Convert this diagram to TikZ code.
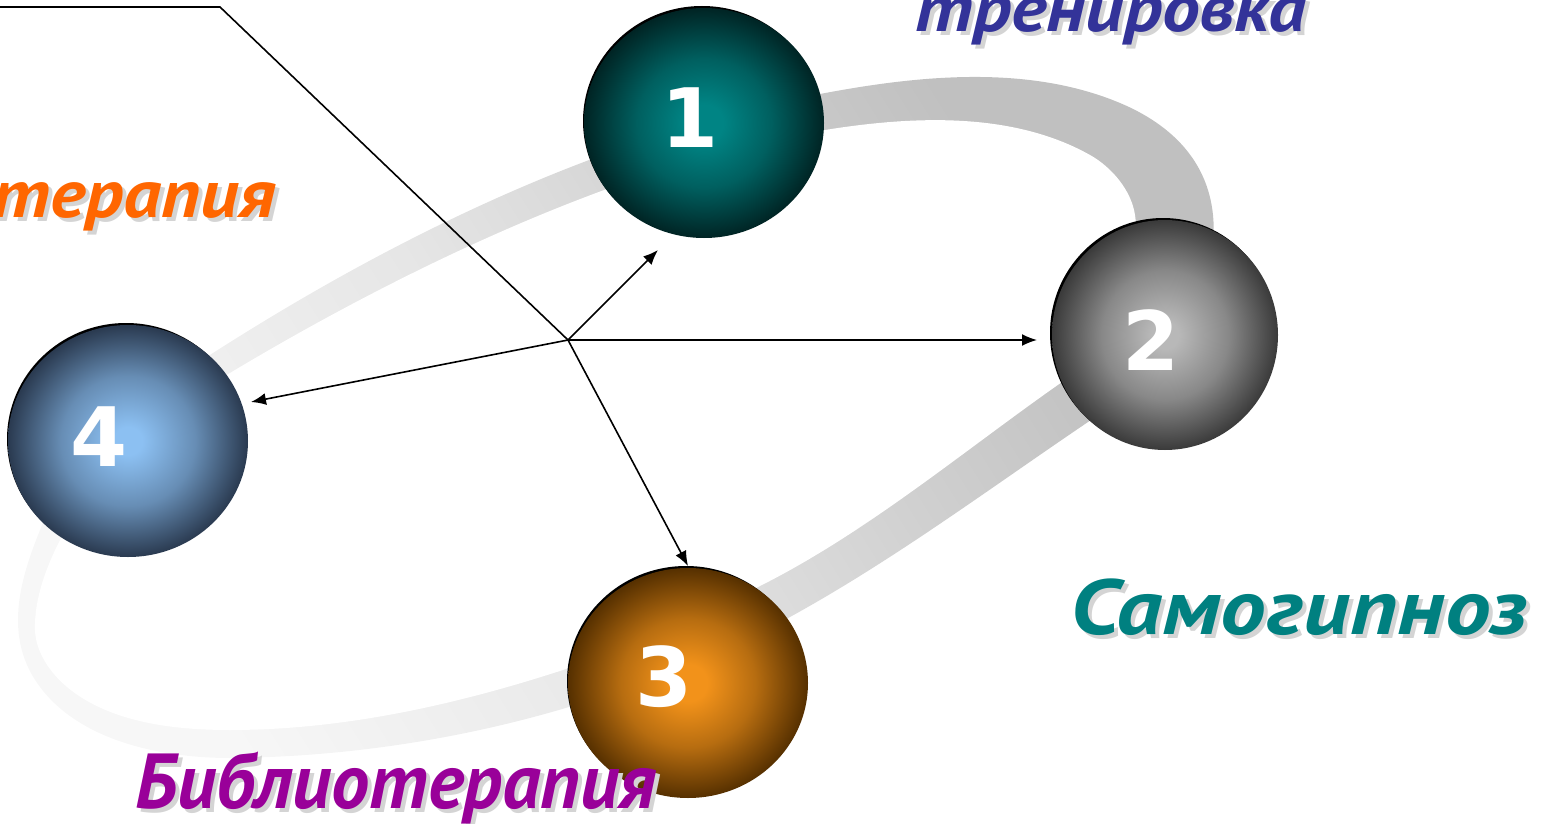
\documentclass[tikz,border=0pt]{standalone}
\usepackage{fontspec}
\usetikzlibrary{arrows.meta,shapes.geometric}
\newfontfamily\labelfont{PT Sans}
\newfontfamily\numfont{DejaVu Sans}

% label colours
\definecolor{lblblue}{HTML}{333399}
\definecolor{lblorange}{HTML}{FF6600}
\definecolor{lblteal}{HTML}{008080}
\definecolor{lblpurple}{HTML}{990099}
\definecolor{lblshadow}{HTML}{D4D4D4}

% ring colours
\definecolor{ringA}{HTML}{F7F7F7}
\definecolor{ringB}{HTML}{E6E6E6}
\definecolor{ringC}{HTML}{D0D0D0}
\definecolor{ringD}{HTML}{C0C0C0}
\pgfdeclarehorizontalshading{ringshade}{100bp}{color(0bp)=(ringA); color(25bp)=(ringA); color(45bp)=(ringB); color(60bp)=(ringC); color(72bp)=(ringD); color(100bp)=(ringD)}

% sphere colours: centre, halfway, rim
\definecolor{sA}{HTML}{008484}\definecolor{sAo}{HTML}{002424}
\definecolor{sB}{HTML}{B8B8B8}\definecolor{sBo}{HTML}{3A3A3A}
\definecolor{sC}{HTML}{F2921A}\definecolor{sCo}{HTML}{563000}
\definecolor{sD}{HTML}{8CC0F2}\definecolor{sDo}{HTML}{2A3A50}
\colorlet{sAm}{sA!62!sAo}
\colorlet{sBm}{sB!62!sBo}
\colorlet{sCm}{sC!62!sCo}
\colorlet{sDm}{sD!62!sDo}
\pgfdeclareradialshading{sphA}{\pgfpoint{0bp}{0bp}}{color(0bp)=(sA); color(4bp)=(sA); color(14bp)=(sAm); color(25bp)=(sAo); color(50bp)=(sAo)}
\pgfdeclareradialshading{sphB}{\pgfpoint{0bp}{0bp}}{color(0bp)=(sB); color(3bp)=(sB); color(14bp)=(sBm); color(25bp)=(sBo); color(50bp)=(sBo)}
\pgfdeclareradialshading{sphC}{\pgfpoint{0bp}{0bp}}{color(0bp)=(sC); color(4bp)=(sC); color(14bp)=(sCm); color(25bp)=(sCo); color(50bp)=(sCo)}
\pgfdeclareradialshading{sphD}{\pgfpoint{0bp}{0bp}}{color(0bp)=(sD); color(3bp)=(sD); color(14bp)=(sDm); color(25bp)=(sDo); color(50bp)=(sDo)}

\tikzset{
  sphere/.style={ellipse, inner sep=0pt, minimum width=240pt, minimum height=230pt, draw=none},
  sphshadow/.style={fill=black},
  num/.style={text=white, inner sep=0pt, font=\numfont\bfseries\fontsize{82}{82}\selectfont},
  lbl/.style={inner sep=0pt, font=\labelfont\bfseries\itshape\fontsize{78}{78}\selectfont},
  lblsmall/.style={inner sep=0pt, font=\labelfont\bfseries\itshape\fontsize{68}{68}\selectfont},
  conn/.style={line width=1.6pt, -{Latex[length=15pt,width=12pt]}},
  leader/.style={line width=1.6pt},
}

\begin{document}
\begin{tikzpicture}[x=1pt,y=-1pt]
\useasboundingbox (0,0) rectangle (1543,824);

% the tilted ring behind the spheres: outer rim shaded, inner hole cut out
\path[shading=ringshade, shading angle=32]
  (213,353) .. controls (398.5,234.4) and (604,135.1) .. (820,94)
  .. controls (918.2,75.3) and (1027.8,64.3) .. (1120,103)
  .. controls (1170.7,124.3) and (1207.5,160.3) .. (1213,215)
  .. controls (1221,294.6) and (1157.4,375.2) .. (1091,420)
  .. controls (991.4,487.2) and (895.1,559.2) .. (790,617)
  .. controls (720,655.6) and (645.6,684) .. (569,707)
  .. controls (459.8,739.7) and (344,757) .. (230,758)
  .. controls (162,758) and (80.8,741.4) .. (40,687)
  .. controls (25,667) and (18,645) .. (18,620)
  .. controls (18,589) and (28.5,558.8) .. (40,530)
  .. controls (70.3,453.7) and (143.9,397.2) .. (213,353) -- cycle;
\fill[white]
  (230,373) .. controls (384.3,280.5) and (613.8,163.8) .. (825,130)
  .. controls (912.8,115.9) and (1012.4,111.4) .. (1090,155)
  .. controls (1111.8,167.3) and (1131.3,190.3) .. (1135,215)
  .. controls (1144,274.4) and (1111.1,347.6) .. (1062,382)
  .. controls (962.1,451.9) and (867.1,532.5) .. (758,587)
  .. controls (696.3,617.8) and (634.6,646.4) .. (569,668)
  .. controls (459.8,704) and (345,730) .. (230,730)
  .. controls (174,730) and (110.1,722.8) .. (67,687)
  .. controls (50.1,672.9) and (35.7,652) .. (35,630)
  .. controls (34.1,599) and (46,567.6) .. (60,540)
  .. controls (95.6,469.7) and (162.3,413.6) .. (230,373) -- cycle;

% sphere centres, hub and arrow ends
\coordinate (c1) at (704,123);
\coordinate (c2) at (1165,335);
\coordinate (c3) at (688,683);
\coordinate (c4) at (128,441);
\coordinate (hub) at (568,340);
\coordinate (t1) at (658,250);
\coordinate (t2) at (1037,340);
\coordinate (t3) at (688,566);
\coordinate (t4) at (251,402);
\coordinate (lstart) at (-5,7);
\coordinate (lbend) at (220,7);

% dark rims of the spheres
\fill[sphshadow] ([shift={(-2,-2)}]c1) circle[x radius=119pt, y radius=115pt];
\fill[sphshadow] ([shift={(-2,-2)}]c2) circle[x radius=113pt, y radius=115pt];
\fill[sphshadow] ([shift={(-2,-2)}]c3) circle[x radius=119pt, y radius=115pt];
\fill[sphshadow] ([shift={(-2,-2)}]c4) circle[x radius=119pt, y radius=116pt];

% spheres
\node[sphere, shading=sphA] (s1) at (c1) {};
\node[sphere, shading=sphB, minimum width=226pt] (s2) at (c2) {};
\node[sphere, shading=sphC] (s3) at (c3) {};
\node[sphere, shading=sphD, minimum height=232pt] (s4) at (c4) {};

% numbers
\node[num] (n1) at (690,118) {1};
\node[num] (n2) at (1151,340) {2};
\node[num] (n3) at (664,677) {3};
\node[num] (n4) at (99,437) {4};

% leader line and arrows
\draw[leader] (lstart) -- (lbend) -- (hub);
\draw[conn] (hub) -- (t1);
\draw[conn] (hub) -- (t2);
\draw[conn] (hub) -- (t3);
\draw[conn] (hub) -- (t4);

% labels with soft drop shadows
\node[lblsmall, text=lblshadow, anchor=base west] (l1s) at (919,36) {\scalebox{1.11}[1]{тренировка}};
\node[lblsmall, text=lblblue, anchor=base west] (l1) at (915,32) {\scalebox{1.11}[1]{тренировка}};
\node[lblsmall, text=lblshadow, anchor=base east] (l2s) at (280,222) {\scalebox{1.11}[1]{терапия}};
\node[lblsmall, text=lblorange, anchor=base east] (l2) at (276,218) {\scalebox{1.11}[1]{терапия}};
\node[lbl, text=lblshadow, anchor=base west] (l3s) at (1074,638) {\scalebox{1.17}[1]{Самогипноз}};
\node[lbl, text=lblteal, anchor=base west] (l3) at (1070,634) {\scalebox{1.17}[1]{Самогипноз}};
\node[lbl, text=lblshadow, anchor=base west] (l4s) at (139,812) {\scalebox{0.98}[1]{Библиотерапия}};
\node[lbl, text=lblpurple, anchor=base west] (l4) at (135,808) {\scalebox{0.98}[1]{Библиотерапия}};
\end{tikzpicture}
\end{document}
